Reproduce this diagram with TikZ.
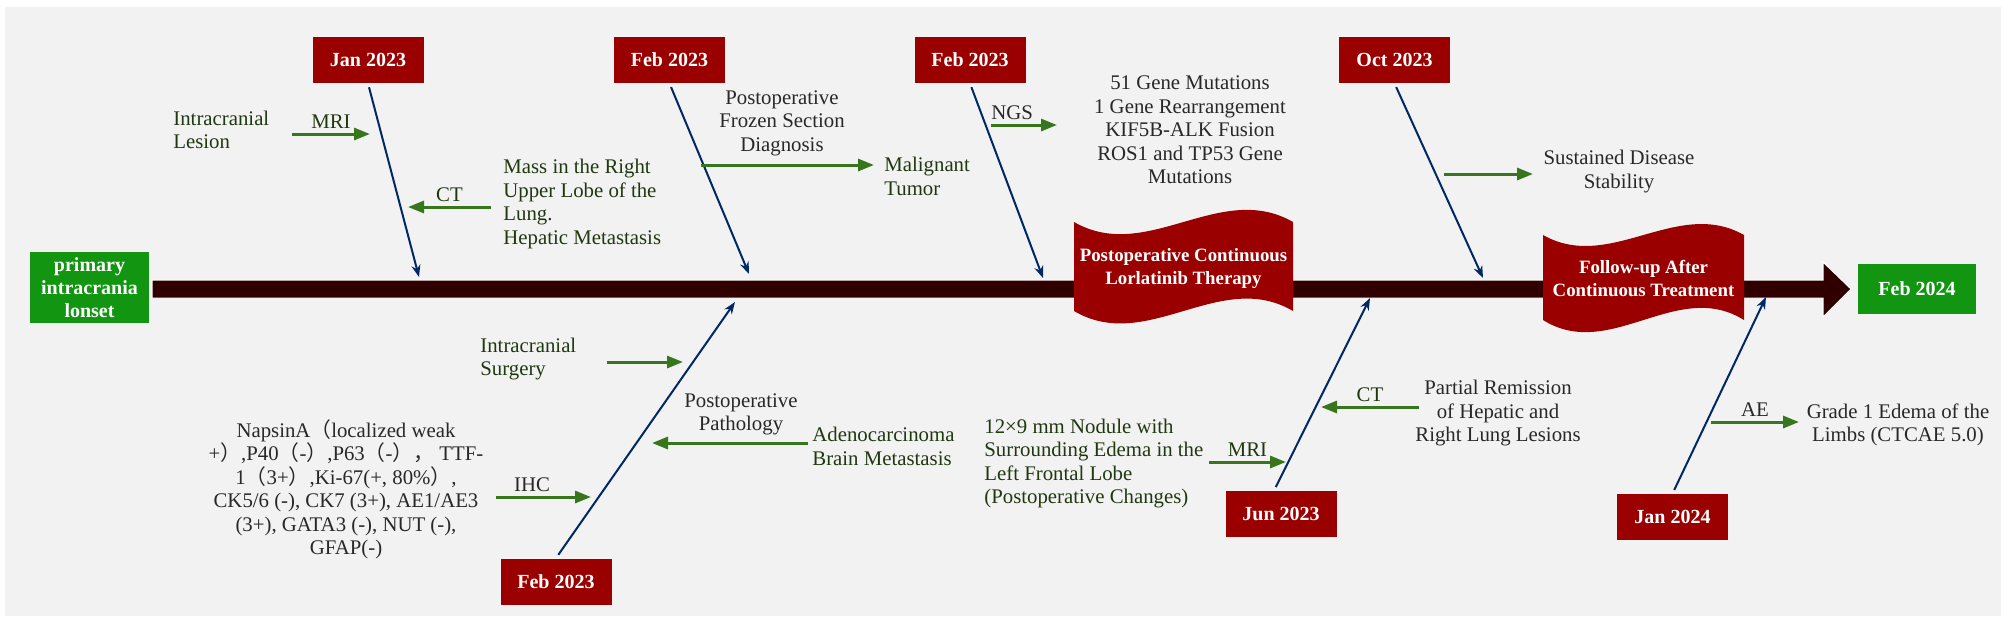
\documentclass[tikz,border=0pt]{standalone}
\usepackage{fontspec}
\setmainfont{Liberation Serif}
\newfontfamily\cjk{Noto Sans CJK SC}
\usetikzlibrary{arrows.meta,positioning}
\definecolor{boxred}{RGB}{155,0,0}
\definecolor{axisbrown}{RGB}{48,0,0}
\definecolor{startgreen}{RGB}{18,150,18}
\definecolor{linknavy}{RGB}{0,40,100}
\definecolor{arrowgreen}{RGB}{56,118,29}
\definecolor{txtgreen}{RGB}{32,56,16}
\definecolor{txtgrey}{RGB}{40,40,40}
\definecolor{bggrey}{RGB}{242,242,242}
\newcommand{\fw}[1]{{\cjk #1}}

\begin{document}
\begin{tikzpicture}[x=0.5pt,y=-0.5pt,
  datebox/.style={fill=boxred,text=white,font=\bfseries\fontsize{10}{12}\selectfont,minimum width=55.5pt,minimum height=23pt,inner sep=0pt},
  greenbox/.style={fill=startgreen,text=white,font=\bfseries\fontsize{10}{11.5}\selectfont,align=center,inner sep=0pt},
  bannertext/.style={text=white,font=\bfseries\fontsize{9.4}{11.5}\selectfont,align=center,inner sep=0pt},
  navyline/.style={draw=linknavy,line width=1pt,shorten <=2pt,-{Stealth[length=6pt,width=4.5pt]}},
  greenline/.style={draw=arrowgreen,line width=1.5pt,-{Triangle[length=8pt,width=6pt]}},
  gtext/.style={text=txtgreen,font=\fontsize{10.4}{11.75}\selectfont,align=left,anchor=west,inner sep=0pt},
  ktext/.style={text=txtgrey,font=\fontsize{10.4}{11.75}\selectfont,align=center,inner sep=0pt},
  arrowtag/.style={font=\fontsize{10.4}{11.75}\selectfont,inner sep=1pt,above=1pt}]
\useasboundingbox (0,0) rectangle (2008,623);
\fill[bggrey] (5,7) rectangle (2001,616);

% Main time axis
\fill[axisbrown,draw=white,line width=0.5pt] (152,280) -- (1823,280) -- (1823,262) -- (1851,289) -- (1823,317) -- (1823,298) -- (152,298) -- cycle;

% Wave banners
\fill[boxred] (1074,222) .. controls (1147,264) and (1220,180) .. (1293,222) -- (1293,311) .. controls (1220,268) and (1147,354) .. (1074,311) -- cycle;
\node[bannertext] (lorla) at (1183.5,268) {Postoperative Continuous\\Lorlatinib Therapy};
\fill[boxred] (1543,235) .. controls (1610,273) and (1677,197) .. (1744,235) -- (1744,320) .. controls (1677,278) and (1610,362) .. (1543,320) -- cycle;
\node[bannertext] (follow) at (1643.5,278) {Follow-up After\\Continuous Treatment};

% Start and end
\node[greenbox,minimum width=59.5pt,minimum height=35.5pt] (onset) at (89.5,287.5) {primary\\intracrania\\lonset};
\node[greenbox,minimum width=59pt,minimum height=25pt] (feb24) at (1917,289) {Feb 2024};

% Dates
\node[datebox] (jan23) at (368,60) {Jan 2023};
\node[datebox] (feb23a) at (669.5,60) {Feb 2023};
\node[datebox] (feb23b) at (970,60) {Feb 2023};
\node[datebox] (oct23) at (1394.5,60) {Oct 2023};
\node[datebox] (feb23c) at (556,581.5) {Feb 2023};
\node[datebox] (jun23) at (1281,514) {Jun 2023};
\node[datebox] (jan24) at (1672.5,517) {Jan 2024};

% Links to the axis
\coordinate (jan23tip) at (419,277);
\coordinate (feb23atip) at (749,274);
\coordinate (feb23btip) at (1043,278);
\coordinate (oct23tip) at (1483,278);
\coordinate (feb23ctip) at (735,302);
\coordinate (jun23tip) at (1370,298);
\coordinate (jan24tip) at (1766,297);
\draw[navyline] (jan23.south) -- (jan23tip);
\draw[navyline] (feb23a.south) -- (feb23atip);
\draw[navyline] (feb23b.south) -- (feb23btip);
\draw[navyline] (oct23.south) -- (oct23tip);
\draw[navyline] (feb23c.north) -- (feb23ctip);
\draw[navyline] ([xshift=-3.5pt]jun23.north) -- (jun23tip);
\draw[navyline] (jan24.north) -- (jan24tip);

% Findings above the axis
\node[gtext] (lesion) at (173,130) {Intracranial\\Lesion};
\draw[greenline] (292,134) -- (370,134) node[arrowtag,midway,text=txtgreen] {MRI};
\node[gtext] (mass) at (503,204) {Mass in the Right\\Upper Lobe of the\\Lung.\\Hepatic Metastasis};
\draw[greenline] (491,207) -- (408,207) node[arrowtag,midway,text=txtgreen] {CT};
\node[ktext] (frozen) at (782,123) {Postoperative\\Frozen Section\\Diagnosis};
\draw[greenline] (701,165) -- (874,165);
\node[gtext] (tumor) at (884,176.5) {Malignant\\Tumor};
\draw[greenline] (991,125) -- (1057,125) node[arrowtag,pos=0.32,text=txtgrey] {NGS};
\node[ktext] (ngsres) at (1190,130) {51 Gene Mutations\\1 Gene Rearrangement\\KIF5B-ALK Fusion\\ROS1 and TP53 Gene\\Mutations};
\draw[greenline] (1444,174) -- (1533,174);
\node[ktext] (stable) at (1619,171.5) {Sustained Disease\\Stability};

% Findings below the axis
\node[gtext] (surgery) at (480,359) {Intracranial\\Surgery};
\draw[greenline] (607,362) -- (683,362);
\node[ktext] (ihcres) at (346,489.5) {NapsinA\fw{（}localized weak\\+\fw{）},P40\fw{（}-\fw{）},P63\fw{（}-\fw{）}\fw{，} TTF-\\1\fw{（}3+\fw{）},Ki-67(+, 80\%\fw{）},\\CK5/6 (-), CK7 (3+), AE1/AE3\\(3+), GATA3 (-), NUT (-),\\GFAP(-)};
\draw[greenline] (496,497) -- (591,497) node[arrowtag,pos=0.38,text=txtgrey] {IHC};
\node[ktext] (patho) at (741,414.5) {Postoperative\\Pathology};
\draw[greenline] (808,443) -- (652,443);
\node[gtext] (adeno) at (812,446.5) {Adenocarcinoma\\Brain Metastasis};
\node[gtext] (nodule) at (984,463.5) {12×9 mm Nodule with\\Surrounding Edema in the\\Left Frontal Lobe\\(Postoperative Changes)};
\draw[greenline] (1209,462) -- (1286,462) node[arrowtag,midway,text=txtgreen] {MRI};
\draw[greenline] (1419,407) -- (1321,407) node[arrowtag,midway,text=txtgreen] {CT};
\node[ktext] (remission) at (1498,413.5) {Partial Remission\\of Hepatic and\\Right Lung Lesions};
\draw[greenline] (1711,422) -- (1799,422) node[arrowtag,midway,text=txtgrey] {AE};
\node[ktext] (edema) at (1898,425) {Grade 1 Edema of the\\Limbs (CTCAE 5.0)};
\end{tikzpicture}
\end{document}
